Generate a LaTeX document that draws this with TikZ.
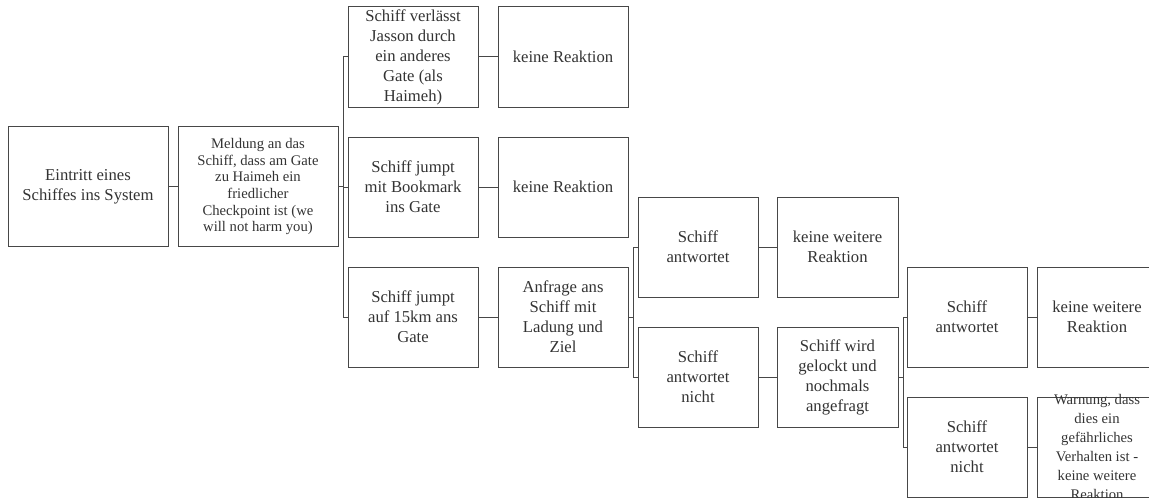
\documentclass[tikz,border=0pt]{standalone}
\usepackage{fontspec}
\setmainfont{Liberation Serif}
\definecolor{boxline}{HTML}{474747}
\definecolor{boxtext}{HTML}{333333}
\tikzset{
	stepbox/.style={
			draw=boxline, line width=0.75pt, text=boxtext,
			align=center, inner sep=1pt,
			minimum width=#1, minimum height=75pt,
			font=\fontsize{12.5}{15}\selectfont
		},
	stepbox/.default=90pt,
	smalltext/.style={font=\fontsize{11}{#1}\selectfont},
	link/.style={draw=boxline, line width=0.75pt}
}

\begin{document}
\begin{tikzpicture}[x=0.75pt, y=-0.75pt]
		\useasboundingbox (0, 0) rectangle (1149, 497.5);

		% entry and message
		\node[stepbox=120pt, minimum height=90pt] (entry) at (88, 186.5) {Eintritt eines\\Schiffes ins System};
		\node[stepbox=120pt, minimum height=90pt, smalltext=12.5] (meldung) at (258, 186.5)
			{Meldung an das\\Schiff, dass am Gate\\zu Haimeh ein\\friedlicher\\Checkpoint ist (we\\will not harm you)};

		% what the ship does
		\node[stepbox=97.5pt] (leave) at (413, 57) {Schiff verlässt\\Jasson durch\\ein anderes\\Gate (als\\Haimeh)};
		\node[stepbox=97.5pt] (bookmark) at (413, 187) {Schiff jumpt\\mit Bookmark\\ins Gate};
		\node[stepbox=97.5pt] (near) at (413, 317) {Schiff jumpt\\auf 15km ans\\Gate};

		\node[stepbox=97.5pt] (noreact1) at (563, 57) {keine Reaktion};
		\node[stepbox=97.5pt] (noreact2) at (563, 187) {keine Reaktion};
		\node[stepbox=97.5pt] (query) at (563, 317) {Anfrage ans\\Schiff mit\\Ladung und\\Ziel};

		% first query
		\node[stepbox] (answer1) at (698, 247) {Schiff\\antwortet};
		\node[stepbox] (silent1) at (698, 377) {Schiff\\antwortet\\nicht};
		\node[stepbox=90.75pt] (noreact3) at (837.5, 247) {keine weitere\\Reaktion};
		\node[stepbox=90.75pt] (locked) at (837.5, 377) {Schiff wird\\gelockt und\\nochmals\\angefragt};

		% second query
		\node[stepbox] (answer2) at (967, 317) {Schiff\\antwortet};
		\node[stepbox] (silent2) at (967, 447) {Schiff\\antwortet\\nicht};
		\node[stepbox] (noreact4) at (1097, 317) {keine weitere\\Reaktion};
		\node[stepbox] (warning) at (1097, 447) {};
		\node[align=center, text=boxtext, smalltext=14.3] (warntext) at (warning)
			{Warnung, dass\\dies ein\\gefährliches\\Verhalten ist -\\keine weitere\\Reaktion};

		% connectors
		\draw[link] (entry.east) -- (meldung.west);
		\foreach \target in {leave, bookmark, near} {
			\draw[link] (meldung.east) -- ++(5, 0) |- (\target.west);
		}
		\draw[link] (leave.east) -- (noreact1.west);
		\draw[link] (bookmark.east) -- (noreact2.west);
		\draw[link] (near.east) -- (query.west);

		\foreach \target in {answer1, silent1} {
			\draw[link] (query.east) -- ++(5, 0) |- (\target.west);
		}
		\draw[link] (answer1.east) -- (noreact3.west);
		\draw[link] (silent1.east) -- (locked.west);

		\foreach \target in {answer2, silent2} {
			\draw[link] (locked.east) -- ++(5, 0) |- (\target.west);
		}
		\draw[link] (answer2.east) -- (noreact4.west);
		\draw[link] (silent2.east) -- (warning.west);
	\end{tikzpicture}
\end{document}
